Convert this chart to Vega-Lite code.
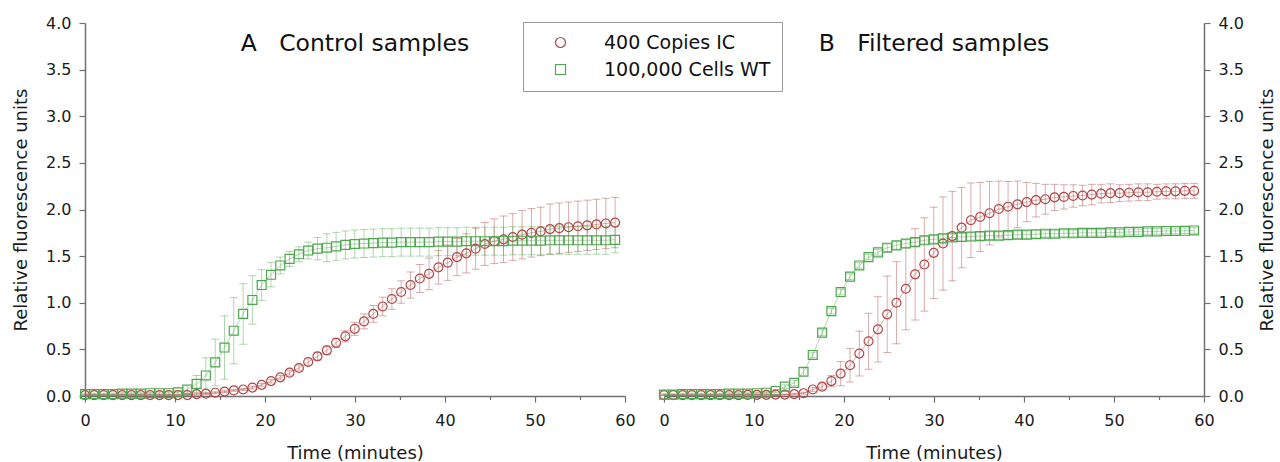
{
"$schema": "https://vega.github.io/schema/vega-lite/v6.json",
"background": "white",
"padding": {"left": 12, "top": 15, "right": 2, "bottom": 2},
"config": {
  "font": "DejaVu Sans",
  "view": {"stroke": null},
  "scale": {"continuousPadding": 0},
  "axis": {"grid": false, "labelFlush": false, "domainColor": "#707070", "domainWidth": 1.5, "tickColor": "#707070", "tickWidth": 1.2, "labelFont": "DejaVu Sans", "labelFontSize": 16, "labelColor": "#1a1a1a", "titleFont": "DejaVu Sans", "titleFontSize": 18, "titleFontWeight": "normal", "titleColor": "#1a1a1a"},
  "axisX": {"labelPadding": 10, "titlePadding": 16},
  "axisY": {"labelPadding": 8, "titlePadding": 15},
  "legend": {"labelFontSize": 19, "labelFont": "DejaVu Sans", "labelColor": "#111", "labelLimit": 400, "symbolSize": 100, "symbolStrokeWidth": 1.2, "symbolOffset": 17, "labelOffset": 34, "padding": 11, "rowPadding": 7, "strokeColor": "#999999", "fillColor": "white"}
},
"data": {"values": [
{"p":"A","s":"400 Copies IC","t":0,"y":0.01,"e":0.005},{"p":"A","s":"400 Copies IC","t":1.03,"y":0.01,"e":0.005},{"p":"A","s":"400 Copies IC","t":2.07,"y":0.01,"e":0.005},{"p":"A","s":"400 Copies IC","t":3.1,"y":0.01,"e":0.005},{"p":"A","s":"400 Copies IC","t":4.13,"y":0.01,"e":0.005},{"p":"A","s":"400 Copies IC","t":5.17,"y":0.01,"e":0.005},{"p":"A","s":"400 Copies IC","t":6.2,"y":0.01,"e":0.005},{"p":"A","s":"400 Copies IC","t":7.23,"y":0.01,"e":0.005},{"p":"A","s":"400 Copies IC","t":8.27,"y":0.01,"e":0.005},{"p":"A","s":"400 Copies IC","t":9.3,"y":0.01,"e":0.005},
{"p":"A","s":"400 Copies IC","t":10.33,"y":0.01,"e":0.005},{"p":"A","s":"400 Copies IC","t":11.37,"y":0.01,"e":0.005},{"p":"A","s":"400 Copies IC","t":12.4,"y":0.02,"e":0.01},{"p":"A","s":"400 Copies IC","t":13.43,"y":0.025,"e":0.01},{"p":"A","s":"400 Copies IC","t":14.47,"y":0.035,"e":0.01},{"p":"A","s":"400 Copies IC","t":15.5,"y":0.047,"e":0.01},{"p":"A","s":"400 Copies IC","t":16.53,"y":0.06,"e":0.01},{"p":"A","s":"400 Copies IC","t":17.57,"y":0.07,"e":0.01},{"p":"A","s":"400 Copies IC","t":18.6,"y":0.09,"e":0.015},{"p":"A","s":"400 Copies IC","t":19.63,"y":0.12,"e":0.015},
{"p":"A","s":"400 Copies IC","t":20.67,"y":0.16,"e":0.02},{"p":"A","s":"400 Copies IC","t":21.7,"y":0.2,"e":0.02},{"p":"A","s":"400 Copies IC","t":22.73,"y":0.25,"e":0.025},{"p":"A","s":"400 Copies IC","t":23.77,"y":0.3,"e":0.03},{"p":"A","s":"400 Copies IC","t":24.8,"y":0.365,"e":0.035},{"p":"A","s":"400 Copies IC","t":25.83,"y":0.425,"e":0.04},{"p":"A","s":"400 Copies IC","t":26.87,"y":0.49,"e":0.045},{"p":"A","s":"400 Copies IC","t":27.9,"y":0.57,"e":0.05},{"p":"A","s":"400 Copies IC","t":28.93,"y":0.64,"e":0.06},{"p":"A","s":"400 Copies IC","t":29.97,"y":0.72,"e":0.07},
{"p":"A","s":"400 Copies IC","t":31,"y":0.8,"e":0.08},{"p":"A","s":"400 Copies IC","t":32.03,"y":0.88,"e":0.09},{"p":"A","s":"400 Copies IC","t":33.07,"y":0.96,"e":0.1},{"p":"A","s":"400 Copies IC","t":34.1,"y":1.04,"e":0.11},{"p":"A","s":"400 Copies IC","t":35.13,"y":1.115,"e":0.12},{"p":"A","s":"400 Copies IC","t":36.17,"y":1.19,"e":0.14},{"p":"A","s":"400 Copies IC","t":37.2,"y":1.26,"e":0.15},{"p":"A","s":"400 Copies IC","t":38.23,"y":1.31,"e":0.17},{"p":"A","s":"400 Copies IC","t":39.27,"y":1.38,"e":0.18},{"p":"A","s":"400 Copies IC","t":40.3,"y":1.43,"e":0.19},
{"p":"A","s":"400 Copies IC","t":41.33,"y":1.49,"e":0.2},{"p":"A","s":"400 Copies IC","t":42.37,"y":1.53,"e":0.21},{"p":"A","s":"400 Copies IC","t":43.4,"y":1.58,"e":0.22},{"p":"A","s":"400 Copies IC","t":44.43,"y":1.63,"e":0.23},{"p":"A","s":"400 Copies IC","t":45.47,"y":1.66,"e":0.24},{"p":"A","s":"400 Copies IC","t":46.5,"y":1.68,"e":0.25},{"p":"A","s":"400 Copies IC","t":47.53,"y":1.705,"e":0.25},{"p":"A","s":"400 Copies IC","t":48.57,"y":1.73,"e":0.26},{"p":"A","s":"400 Copies IC","t":49.6,"y":1.75,"e":0.26},{"p":"A","s":"400 Copies IC","t":50.63,"y":1.765,"e":0.26},
{"p":"A","s":"400 Copies IC","t":51.67,"y":1.79,"e":0.27},{"p":"A","s":"400 Copies IC","t":52.7,"y":1.8,"e":0.27},{"p":"A","s":"400 Copies IC","t":53.73,"y":1.81,"e":0.27},{"p":"A","s":"400 Copies IC","t":54.77,"y":1.82,"e":0.27},{"p":"A","s":"400 Copies IC","t":55.8,"y":1.83,"e":0.27},{"p":"A","s":"400 Copies IC","t":56.83,"y":1.84,"e":0.27},{"p":"A","s":"400 Copies IC","t":57.87,"y":1.85,"e":0.27},{"p":"A","s":"400 Copies IC","t":58.9,"y":1.86,"e":0.27},
{"p":"A","s":"100,000 Cells WT","t":0,"y":0.02,"e":0.01},{"p":"A","s":"100,000 Cells WT","t":1.03,"y":0.02,"e":0.01},{"p":"A","s":"100,000 Cells WT","t":2.07,"y":0.02,"e":0.01},{"p":"A","s":"100,000 Cells WT","t":3.1,"y":0.02,"e":0.01},{"p":"A","s":"100,000 Cells WT","t":4.13,"y":0.025,"e":0.01},{"p":"A","s":"100,000 Cells WT","t":5.17,"y":0.025,"e":0.01},{"p":"A","s":"100,000 Cells WT","t":6.2,"y":0.025,"e":0.01},{"p":"A","s":"100,000 Cells WT","t":7.23,"y":0.03,"e":0.01},{"p":"A","s":"100,000 Cells WT","t":8.27,"y":0.03,"e":0.015},{"p":"A","s":"100,000 Cells WT","t":9.3,"y":0.03,"e":0.015},
{"p":"A","s":"100,000 Cells WT","t":10.33,"y":0.04,"e":0.02},{"p":"A","s":"100,000 Cells WT","t":11.37,"y":0.07,"e":0.04},{"p":"A","s":"100,000 Cells WT","t":12.4,"y":0.13,"e":0.09},{"p":"A","s":"100,000 Cells WT","t":13.43,"y":0.22,"e":0.19},{"p":"A","s":"100,000 Cells WT","t":14.47,"y":0.36,"e":0.25},{"p":"A","s":"100,000 Cells WT","t":15.5,"y":0.52,"e":0.34},{"p":"A","s":"100,000 Cells WT","t":16.53,"y":0.7,"e":0.355},{"p":"A","s":"100,000 Cells WT","t":17.57,"y":0.88,"e":0.325},{"p":"A","s":"100,000 Cells WT","t":18.6,"y":1.03,"e":0.26},{"p":"A","s":"100,000 Cells WT","t":19.63,"y":1.19,"e":0.165},
{"p":"A","s":"100,000 Cells WT","t":20.67,"y":1.3,"e":0.13},{"p":"A","s":"100,000 Cells WT","t":21.7,"y":1.4,"e":0.09},{"p":"A","s":"100,000 Cells WT","t":22.73,"y":1.47,"e":0.08},{"p":"A","s":"100,000 Cells WT","t":23.77,"y":1.52,"e":0.08},{"p":"A","s":"100,000 Cells WT","t":24.8,"y":1.56,"e":0.09},{"p":"A","s":"100,000 Cells WT","t":25.83,"y":1.58,"e":0.12},{"p":"A","s":"100,000 Cells WT","t":26.87,"y":1.59,"e":0.15},{"p":"A","s":"100,000 Cells WT","t":27.9,"y":1.605,"e":0.15},{"p":"A","s":"100,000 Cells WT","t":28.93,"y":1.62,"e":0.15},{"p":"A","s":"100,000 Cells WT","t":29.97,"y":1.63,"e":0.15},
{"p":"A","s":"100,000 Cells WT","t":31,"y":1.635,"e":0.15},{"p":"A","s":"100,000 Cells WT","t":32.03,"y":1.64,"e":0.15},{"p":"A","s":"100,000 Cells WT","t":33.07,"y":1.645,"e":0.15},{"p":"A","s":"100,000 Cells WT","t":34.1,"y":1.645,"e":0.15},{"p":"A","s":"100,000 Cells WT","t":35.13,"y":1.65,"e":0.15},{"p":"A","s":"100,000 Cells WT","t":36.17,"y":1.65,"e":0.15},{"p":"A","s":"100,000 Cells WT","t":37.2,"y":1.65,"e":0.15},{"p":"A","s":"100,000 Cells WT","t":38.23,"y":1.65,"e":0.15},{"p":"A","s":"100,000 Cells WT","t":39.27,"y":1.655,"e":0.15},{"p":"A","s":"100,000 Cells WT","t":40.3,"y":1.655,"e":0.15},
{"p":"A","s":"100,000 Cells WT","t":41.33,"y":1.655,"e":0.15},{"p":"A","s":"100,000 Cells WT","t":42.37,"y":1.66,"e":0.15},{"p":"A","s":"100,000 Cells WT","t":43.4,"y":1.66,"e":0.15},{"p":"A","s":"100,000 Cells WT","t":44.43,"y":1.66,"e":0.15},{"p":"A","s":"100,000 Cells WT","t":45.47,"y":1.66,"e":0.15},{"p":"A","s":"100,000 Cells WT","t":46.5,"y":1.66,"e":0.15},{"p":"A","s":"100,000 Cells WT","t":47.53,"y":1.665,"e":0.15},{"p":"A","s":"100,000 Cells WT","t":48.57,"y":1.665,"e":0.15},{"p":"A","s":"100,000 Cells WT","t":49.6,"y":1.665,"e":0.15},{"p":"A","s":"100,000 Cells WT","t":50.63,"y":1.665,"e":0.15},
{"p":"A","s":"100,000 Cells WT","t":51.67,"y":1.67,"e":0.15},{"p":"A","s":"100,000 Cells WT","t":52.7,"y":1.67,"e":0.15},{"p":"A","s":"100,000 Cells WT","t":53.73,"y":1.67,"e":0.15},{"p":"A","s":"100,000 Cells WT","t":54.77,"y":1.67,"e":0.15},{"p":"A","s":"100,000 Cells WT","t":55.8,"y":1.67,"e":0.15},{"p":"A","s":"100,000 Cells WT","t":56.83,"y":1.67,"e":0.15},{"p":"A","s":"100,000 Cells WT","t":57.87,"y":1.67,"e":0.15},{"p":"A","s":"100,000 Cells WT","t":58.9,"y":1.675,"e":0.14},
{"p":"B","s":"400 Copies IC","t":0,"y":0.01,"e":0.005},{"p":"B","s":"400 Copies IC","t":1.03,"y":0.01,"e":0.005},{"p":"B","s":"400 Copies IC","t":2.07,"y":0.01,"e":0.005},{"p":"B","s":"400 Copies IC","t":3.1,"y":0.01,"e":0.005},{"p":"B","s":"400 Copies IC","t":4.13,"y":0.01,"e":0.005},{"p":"B","s":"400 Copies IC","t":5.17,"y":0.01,"e":0.005},{"p":"B","s":"400 Copies IC","t":6.2,"y":0.01,"e":0.005},{"p":"B","s":"400 Copies IC","t":7.23,"y":0.01,"e":0.005},{"p":"B","s":"400 Copies IC","t":8.27,"y":0.01,"e":0.005},{"p":"B","s":"400 Copies IC","t":9.3,"y":0.012,"e":0.005},
{"p":"B","s":"400 Copies IC","t":10.33,"y":0.012,"e":0.005},{"p":"B","s":"400 Copies IC","t":11.37,"y":0.012,"e":0.005},{"p":"B","s":"400 Copies IC","t":12.4,"y":0.015,"e":0.005},{"p":"B","s":"400 Copies IC","t":13.43,"y":0.015,"e":0.005},{"p":"B","s":"400 Copies IC","t":14.47,"y":0.02,"e":0.01},{"p":"B","s":"400 Copies IC","t":15.5,"y":0.03,"e":0.01},{"p":"B","s":"400 Copies IC","t":16.53,"y":0.07,"e":0.02},{"p":"B","s":"400 Copies IC","t":17.57,"y":0.1,"e":0.03},{"p":"B","s":"400 Copies IC","t":18.6,"y":0.16,"e":0.06},{"p":"B","s":"400 Copies IC","t":19.63,"y":0.24,"e":0.13},
{"p":"B","s":"400 Copies IC","t":20.67,"y":0.33,"e":0.18},{"p":"B","s":"400 Copies IC","t":21.7,"y":0.455,"e":0.24},{"p":"B","s":"400 Copies IC","t":22.73,"y":0.587,"e":0.3},{"p":"B","s":"400 Copies IC","t":23.77,"y":0.715,"e":0.35},{"p":"B","s":"400 Copies IC","t":24.8,"y":0.876,"e":0.41},{"p":"B","s":"400 Copies IC","t":25.83,"y":1.0,"e":0.44},{"p":"B","s":"400 Copies IC","t":26.87,"y":1.15,"e":0.44},{"p":"B","s":"400 Copies IC","t":27.9,"y":1.305,"e":0.49},{"p":"B","s":"400 Copies IC","t":28.93,"y":1.41,"e":0.5},{"p":"B","s":"400 Copies IC","t":29.97,"y":1.535,"e":0.49},
{"p":"B","s":"400 Copies IC","t":31,"y":1.635,"e":0.5},{"p":"B","s":"400 Copies IC","t":32.03,"y":1.715,"e":0.48},{"p":"B","s":"400 Copies IC","t":33.07,"y":1.805,"e":0.43},{"p":"B","s":"400 Copies IC","t":34.1,"y":1.885,"e":0.4},{"p":"B","s":"400 Copies IC","t":35.13,"y":1.92,"e":0.37},{"p":"B","s":"400 Copies IC","t":36.17,"y":1.96,"e":0.34},{"p":"B","s":"400 Copies IC","t":37.2,"y":2.005,"e":0.3},{"p":"B","s":"400 Copies IC","t":38.23,"y":2.03,"e":0.27},{"p":"B","s":"400 Copies IC","t":39.27,"y":2.055,"e":0.25},{"p":"B","s":"400 Copies IC","t":40.3,"y":2.08,"e":0.21},
{"p":"B","s":"400 Copies IC","t":41.33,"y":2.1,"e":0.18},{"p":"B","s":"400 Copies IC","t":42.37,"y":2.11,"e":0.16},{"p":"B","s":"400 Copies IC","t":43.4,"y":2.13,"e":0.14},{"p":"B","s":"400 Copies IC","t":44.43,"y":2.135,"e":0.13},{"p":"B","s":"400 Copies IC","t":45.47,"y":2.145,"e":0.12},{"p":"B","s":"400 Copies IC","t":46.5,"y":2.15,"e":0.11},{"p":"B","s":"400 Copies IC","t":47.53,"y":2.16,"e":0.11},{"p":"B","s":"400 Copies IC","t":48.57,"y":2.17,"e":0.1},{"p":"B","s":"400 Copies IC","t":49.6,"y":2.175,"e":0.1},{"p":"B","s":"400 Copies IC","t":50.63,"y":2.175,"e":0.09},
{"p":"B","s":"400 Copies IC","t":51.67,"y":2.18,"e":0.09},{"p":"B","s":"400 Copies IC","t":52.7,"y":2.185,"e":0.09},{"p":"B","s":"400 Copies IC","t":53.73,"y":2.185,"e":0.09},{"p":"B","s":"400 Copies IC","t":54.77,"y":2.19,"e":0.08},{"p":"B","s":"400 Copies IC","t":55.8,"y":2.195,"e":0.08},{"p":"B","s":"400 Copies IC","t":56.83,"y":2.195,"e":0.08},{"p":"B","s":"400 Copies IC","t":57.87,"y":2.2,"e":0.08},{"p":"B","s":"400 Copies IC","t":58.9,"y":2.2,"e":0.08},
{"p":"B","s":"100,000 Cells WT","t":0,"y":0.015,"e":0.01},{"p":"B","s":"100,000 Cells WT","t":1.03,"y":0.015,"e":0.01},{"p":"B","s":"100,000 Cells WT","t":2.07,"y":0.02,"e":0.01},{"p":"B","s":"100,000 Cells WT","t":3.1,"y":0.02,"e":0.01},{"p":"B","s":"100,000 Cells WT","t":4.13,"y":0.02,"e":0.01},{"p":"B","s":"100,000 Cells WT","t":5.17,"y":0.02,"e":0.01},{"p":"B","s":"100,000 Cells WT","t":6.2,"y":0.02,"e":0.01},{"p":"B","s":"100,000 Cells WT","t":7.23,"y":0.025,"e":0.01},{"p":"B","s":"100,000 Cells WT","t":8.27,"y":0.025,"e":0.01},{"p":"B","s":"100,000 Cells WT","t":9.3,"y":0.025,"e":0.01},
{"p":"B","s":"100,000 Cells WT","t":10.33,"y":0.03,"e":0.01},{"p":"B","s":"100,000 Cells WT","t":11.37,"y":0.035,"e":0.01},{"p":"B","s":"100,000 Cells WT","t":12.4,"y":0.054,"e":0.015},{"p":"B","s":"100,000 Cells WT","t":13.43,"y":0.1,"e":0.02},{"p":"B","s":"100,000 Cells WT","t":14.47,"y":0.14,"e":0.03},{"p":"B","s":"100,000 Cells WT","t":15.5,"y":0.26,"e":0.04},{"p":"B","s":"100,000 Cells WT","t":16.53,"y":0.44,"e":0.03},{"p":"B","s":"100,000 Cells WT","t":17.57,"y":0.68,"e":0.03},{"p":"B","s":"100,000 Cells WT","t":18.6,"y":0.91,"e":0.03},{"p":"B","s":"100,000 Cells WT","t":19.63,"y":1.115,"e":0.03},
{"p":"B","s":"100,000 Cells WT","t":20.67,"y":1.28,"e":0.03},{"p":"B","s":"100,000 Cells WT","t":21.7,"y":1.4,"e":0.03},{"p":"B","s":"100,000 Cells WT","t":22.73,"y":1.49,"e":0.03},{"p":"B","s":"100,000 Cells WT","t":23.77,"y":1.54,"e":0.03},{"p":"B","s":"100,000 Cells WT","t":24.8,"y":1.59,"e":0.04},{"p":"B","s":"100,000 Cells WT","t":25.83,"y":1.615,"e":0.04},{"p":"B","s":"100,000 Cells WT","t":26.87,"y":1.635,"e":0.04},{"p":"B","s":"100,000 Cells WT","t":27.9,"y":1.65,"e":0.04},{"p":"B","s":"100,000 Cells WT","t":28.93,"y":1.67,"e":0.04},{"p":"B","s":"100,000 Cells WT","t":29.97,"y":1.68,"e":0.04},
{"p":"B","s":"100,000 Cells WT","t":31,"y":1.69,"e":0.04},{"p":"B","s":"100,000 Cells WT","t":32.03,"y":1.7,"e":0.04},{"p":"B","s":"100,000 Cells WT","t":33.07,"y":1.705,"e":0.04},{"p":"B","s":"100,000 Cells WT","t":34.1,"y":1.71,"e":0.04},{"p":"B","s":"100,000 Cells WT","t":35.13,"y":1.715,"e":0.04},{"p":"B","s":"100,000 Cells WT","t":36.17,"y":1.72,"e":0.04},{"p":"B","s":"100,000 Cells WT","t":37.2,"y":1.72,"e":0.04},{"p":"B","s":"100,000 Cells WT","t":38.23,"y":1.725,"e":0.04},{"p":"B","s":"100,000 Cells WT","t":39.27,"y":1.73,"e":0.04},{"p":"B","s":"100,000 Cells WT","t":40.3,"y":1.73,"e":0.04},
{"p":"B","s":"100,000 Cells WT","t":41.33,"y":1.735,"e":0.04},{"p":"B","s":"100,000 Cells WT","t":42.37,"y":1.74,"e":0.035},{"p":"B","s":"100,000 Cells WT","t":43.4,"y":1.74,"e":0.035},{"p":"B","s":"100,000 Cells WT","t":44.43,"y":1.745,"e":0.035},{"p":"B","s":"100,000 Cells WT","t":45.47,"y":1.745,"e":0.035},{"p":"B","s":"100,000 Cells WT","t":46.5,"y":1.75,"e":0.035},{"p":"B","s":"100,000 Cells WT","t":47.53,"y":1.75,"e":0.035},{"p":"B","s":"100,000 Cells WT","t":48.57,"y":1.75,"e":0.035},{"p":"B","s":"100,000 Cells WT","t":49.6,"y":1.755,"e":0.035},{"p":"B","s":"100,000 Cells WT","t":50.63,"y":1.755,"e":0.03},
{"p":"B","s":"100,000 Cells WT","t":51.67,"y":1.76,"e":0.03},{"p":"B","s":"100,000 Cells WT","t":52.7,"y":1.76,"e":0.03},{"p":"B","s":"100,000 Cells WT","t":53.73,"y":1.765,"e":0.03},{"p":"B","s":"100,000 Cells WT","t":54.77,"y":1.765,"e":0.03},{"p":"B","s":"100,000 Cells WT","t":55.8,"y":1.77,"e":0.03},{"p":"B","s":"100,000 Cells WT","t":56.83,"y":1.77,"e":0.03},{"p":"B","s":"100,000 Cells WT","t":57.87,"y":1.772,"e":0.03},{"p":"B","s":"100,000 Cells WT","t":58.9,"y":1.775,"e":0.03}
]},
"spacing": 39,
"bounds": "flush",
"resolve": {"scale": {"color": "shared", "shape": "shared"}},
"hconcat": [
 {
  "width": 540, "height": 373,
  "layer": [
   {"transform": [{"filter": "datum.p === 'A'"}],
    "mark": {"type": "errorbar", "ticks": true, "size": 8, "thickness": 1, "opacity": 0.45},
    "encoding": {
      "x": {"field": "t", "type": "quantitative", "title": "Time (minutes)", "scale": {"domain": [0, 60], "nice": false, "padding": 0}},
      "y": {"field": "y", "type": "quantitative", "title": "Relative fluorescence units", "scale": {"domain": [0, 4], "nice": false, "padding": 0}},
      "yError": {"field": "e"},
      "color": {"condition": {"test": "datum.s === '400 Copies IC'", "value": "#b04848"}, "value": "#4ea64e"}
    }},
   {"transform": [{"filter": "datum.p === 'A'"}],
    "mark": {"type": "line", "strokeWidth": 1, "opacity": 0.45},
    "encoding": {
      "x": {"field": "t", "type": "quantitative", "title": "Time (minutes)"},
      "y": {"field": "y", "type": "quantitative", "title": "Relative fluorescence units"},
      "detail": {"field": "s", "type": "nominal"},
      "color": {"condition": {"test": "datum.s === '400 Copies IC'", "value": "#b04848"}, "value": "#4ea64e"}
    }},
   {"transform": [{"filter": "datum.p === 'A'"}],
    "mark": {"type": "point", "filled": false, "size": 80, "strokeWidth": 1.2, "opacity": 1},
    "encoding": {
      "x": {"field": "t", "type": "quantitative", "title": "Time (minutes)", "axis": {"values": [0,5,10,15,20,25,30,35,40,45,50,55,60], "labelExpr": "datum.value % 10 === 0 ? datum.label : ''", "tickSize": {"condition": {"test": "datum.value % 10 === 0", "value": 6}, "value": 3.5}}},
      "y": {"field": "y", "type": "quantitative", "title": "Relative fluorescence units", "axis": {"orient": "left", "format": ".1f", "values": [0,0.25,0.5,0.75,1,1.25,1.5,1.75,2,2.25,2.5,2.75,3,3.25,3.5,3.75,4], "labelExpr": "round(datum.value * 4) % 2 === 0 ? datum.label : ''", "tickSize": {"condition": {"test": "round(datum.value * 4) % 2 === 0", "value": 6}, "value": 3.5}}},
      "color": {"field": "s", "type": "nominal", "title": null, "scale": {"domain": ["400 Copies IC", "100,000 Cells WT"], "range": ["#b04848", "#4ea64e"]},
        "legend": {"title": null, "orient": "none", "legendX": 438, "legendY": -1}},
      "shape": {"field": "s", "type": "nominal", "title": null, "legend": null, "scale": {"domain": ["400 Copies IC", "100,000 Cells WT"], "range": ["circle", "square"]}}
    }},
   {"data": {"values": [{"label": "A\u00a0\u00a0\u00a0Control samples"}]},
    "mark": {"type": "text", "fontSize": 23.5, "font": "DejaVu Sans", "align": "center", "baseline": "alphabetic", "color": "#111"},
    "encoding": {"x": {"datum": 30, "type": "quantitative", "title": "Time (minutes)"}, "y": {"datum": 3.7, "type": "quantitative", "title": "Relative fluorescence units"}, "text": {"field": "label"}}}
  ]
 },
 {
  "width": 540, "height": 373,
  "layer": [
   {"transform": [{"filter": "datum.p === 'B'"}],
    "mark": {"type": "errorbar", "ticks": true, "size": 8, "thickness": 1, "opacity": 0.45},
    "encoding": {
      "x": {"field": "t", "type": "quantitative", "title": "Time (minutes)", "scale": {"domain": [0, 60], "nice": false, "padding": 0}},
      "y": {"field": "y", "type": "quantitative", "title": "Relative fluorescence units", "scale": {"domain": [0, 4], "nice": false, "padding": 0}},
      "yError": {"field": "e"},
      "color": {"condition": {"test": "datum.s === '400 Copies IC'", "value": "#b04848"}, "value": "#4ea64e"}
    }},
   {"transform": [{"filter": "datum.p === 'B'"}],
    "mark": {"type": "line", "strokeWidth": 1, "opacity": 0.45},
    "encoding": {
      "x": {"field": "t", "type": "quantitative", "title": "Time (minutes)"},
      "y": {"field": "y", "type": "quantitative", "title": "Relative fluorescence units"},
      "detail": {"field": "s", "type": "nominal"},
      "color": {"condition": {"test": "datum.s === '400 Copies IC'", "value": "#b04848"}, "value": "#4ea64e"}
    }},
   {"transform": [{"filter": "datum.p === 'B'"}],
    "mark": {"type": "point", "filled": false, "size": 80, "strokeWidth": 1.2, "opacity": 1},
    "encoding": {
      "x": {"field": "t", "type": "quantitative", "title": "Time (minutes)", "axis": {"values": [0,5,10,15,20,25,30,35,40,45,50,55,60], "labelExpr": "datum.value % 10 === 0 ? datum.label : ''", "tickSize": {"condition": {"test": "datum.value % 10 === 0", "value": 6}, "value": 3.5}}},
      "y": {"field": "y", "type": "quantitative", "title": "Relative fluorescence units", "axis": {"orient": "right", "titleAngle": 270, "titlePadding": 33, "format": ".1f", "values": [0,0.25,0.5,0.75,1,1.25,1.5,1.75,2,2.25,2.5,2.75,3,3.25,3.5,3.75,4], "labelExpr": "round(datum.value * 4) % 2 === 0 ? datum.label : ''", "tickSize": {"condition": {"test": "round(datum.value * 4) % 2 === 0", "value": 6}, "value": 3.5}}},
      "color": {"field": "s", "type": "nominal", "title": null,
        "legend": {"title": null, "orient": "none", "legendX": 438, "legendY": -1}},
      "shape": {"field": "s", "type": "nominal", "title": null, "legend": null}
    }},
   {"data": {"values": [{"label": "B\u00a0\u00a0\u00a0Filtered samples"}]},
    "mark": {"type": "text", "fontSize": 23.5, "font": "DejaVu Sans", "align": "center", "baseline": "alphabetic", "color": "#111"},
    "encoding": {"x": {"datum": 30, "type": "quantitative", "title": "Time (minutes)"}, "y": {"datum": 3.7, "type": "quantitative", "title": "Relative fluorescence units"}, "text": {"field": "label"}}}
  ]
 }
]
}
